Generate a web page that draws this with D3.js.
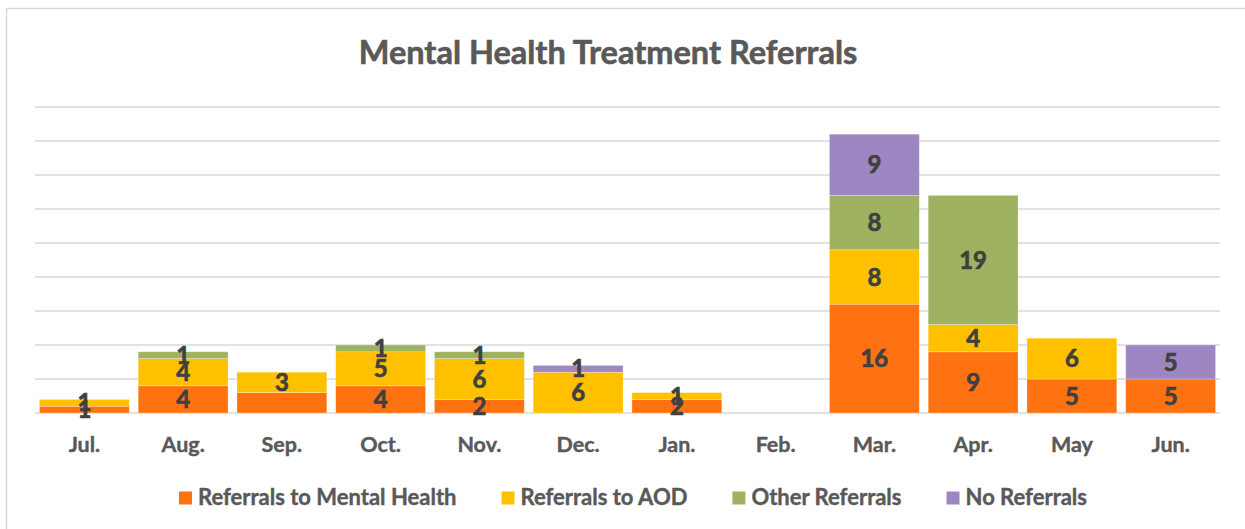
<!DOCTYPE html>
<html>
<head>
<meta charset="utf-8">
<script src="https://cdn.jsdelivr.net/npm/d3@7"></script>
<style>
  body { margin: 0; background: #fff; }
  text { font-family: Lato, "Open Sans", sans-serif; font-weight: bold; }
</style>
</head>
<body>
<svg id="chart" width="1245" height="529"></svg>
<script>
// chart data
const months = ["Jul.", "Aug.", "Sep.", "Oct.", "Nov.", "Dec.", "Jan.", "Feb.", "Mar.", "Apr.", "May", "Jun."];
const seriesNames = ["Referrals to Mental Health", "Referrals to AOD", "Other Referrals", "No Referrals"];
const mentalHealth = [1, 4, 3, 4, 2, 0, 2, 0, 16, 9, 5, 5];
const aod = [1, 4, 3, 5, 6, 6, 1, 0, 8, 4, 6, 0];
const other = [0, 1, 0, 1, 1, 0, 0, 0, 8, 19, 0, 0];
const noReferrals = [0, 0, 0, 0, 0, 1, 0, 0, 9, 0, 0, 5];
const gridTicks = [0, 5, 10, 15, 20, 25, 30, 35, 40, 45];
// labels that the original chart leaves out
const hiddenLabels = [["Sep.", "Referrals to Mental Health"]];

const colors = ["#FF7212", "#FFC000", "#9FB25F", "#9E86C2"];

// build rows for the stack
const values = [mentalHealth, aod, other, noReferrals];
const rows = months.map((m, i) => {
  const row = { month: m };
  seriesNames.forEach((s, j) => row[s] = values[j][i]);
  return row;
});

const svg = d3.select("#chart");

// chart border
svg.append("rect")
  .attr("x", 6.5).attr("y", 8.5)
  .attr("width", 1300).attr("height", 600)
  .attr("fill", "none")
  .attr("stroke", "#d9d9d9")
  .attr("stroke-width", 1.5);

// scales
const x = d3.scaleBand()
  .domain(months)
  .range([35, 1220])
  .paddingInner(0.09)
  .paddingOuter(0.045);

const y = d3.scaleLinear()
  .domain([0, 45])
  .range([413, 107]);

// gridlines
svg.append("g")
  .selectAll("line")
  .data(gridTicks)
  .join("line")
  .attr("x1", 35).attr("x2", 1220)
  .attr("y1", d => y(d)).attr("y2", d => y(d))
  .attr("stroke", "#d9d9d9")
  .attr("stroke-width", 1.5);

// stacked bars
const stacked = d3.stack().keys(seriesNames)(rows);

const layers = svg.append("g")
  .selectAll("g")
  .data(stacked)
  .join("g")
  .attr("fill", (d, i) => colors[i]);

layers.selectAll("rect")
  .data(d => d.filter(p => p[1] > p[0]))
  .join("rect")
  .attr("x", d => x(d.data.month))
  .attr("width", x.bandwidth())
  .attr("y", d => y(d[1]))
  .attr("height", d => y(d[0]) - y(d[1]))
  .attr("stroke", "#fff")
  .attr("stroke-opacity", 0.35)
  .attr("stroke-width", 0.75);

// data labels
const isHidden = (month, key) => hiddenLabels.some(h => h[0] === month && h[1] === key);

const labels = [];
stacked.forEach(layer => {
  layer.forEach(p => {
    const v = p[1] - p[0];
    if (v > 0 && !isHidden(p.data.month, layer.key)) {
      labels.push({ month: p.data.month, v: v, mid: (p[0] + p[1]) / 2 });
    }
  });
});

svg.append("g")
  .selectAll("text")
  .data(labels)
  .join("text")
  .attr("x", d => x(d.month) + x.bandwidth() / 2)
  .attr("y", d => y(d.mid))
  .attr("dy", "0.36em")
  .attr("text-anchor", "middle")
  .attr("font-size", 24)
  .attr("fill", "#404040")
  .attr("stroke", "#404040")
  .attr("stroke-width", 0.7)
  .text(d => d.v);

// month axis
const xAxis = svg.append("g")
  .attr("transform", "translate(0,413)")
  .call(d3.axisBottom(x).tickSize(0).tickPadding(0));
xAxis.select(".domain").remove();
xAxis.selectAll("text")
  .attr("y", 39)
  .attr("dy", 0)
  .attr("font-size", 21.5)
  .attr("font-family", "Lato, 'Open Sans', sans-serif")
  .attr("font-weight", "bold")
  .attr("fill", "#595959")
  .attr("stroke", "#595959")
  .attr("stroke-width", 0.4);

// title
svg.append("text")
  .attr("x", 608)
  .attr("y", 64)
  .attr("text-anchor", "middle")
  .attr("font-size", 32.5)
  .attr("fill", "#595959")
  .attr("stroke", "#595959")
  .attr("stroke-width", 0.6)
  .text("Mental Health Treatment Referrals");

// legend
const legend = svg.append("g");
const items = legend.selectAll("g")
  .data(seriesNames)
  .join("g");

items.append("rect")
  .attr("width", 13).attr("height", 13)
  .attr("y", -13.5)
  .attr("fill", (d, i) => colors[i]);

items.append("text")
  .attr("x", 19)
  .attr("font-size", 22)
  .attr("fill", "#595959")
  .attr("stroke", "#595959")
  .attr("stroke-width", 0.4)
  .text(d => d);

// spread the legend items
let offset = 0;
items.each(function() {
  const w = this.getBBox().width;
  d3.select(this).attr("transform", `translate(${offset},0)`);
  offset += w + 45;
});
const legendWidth = offset - 45;
legend.attr("transform", `translate(${633 - legendWidth / 2},505)`);
</script>
</body>
</html>
